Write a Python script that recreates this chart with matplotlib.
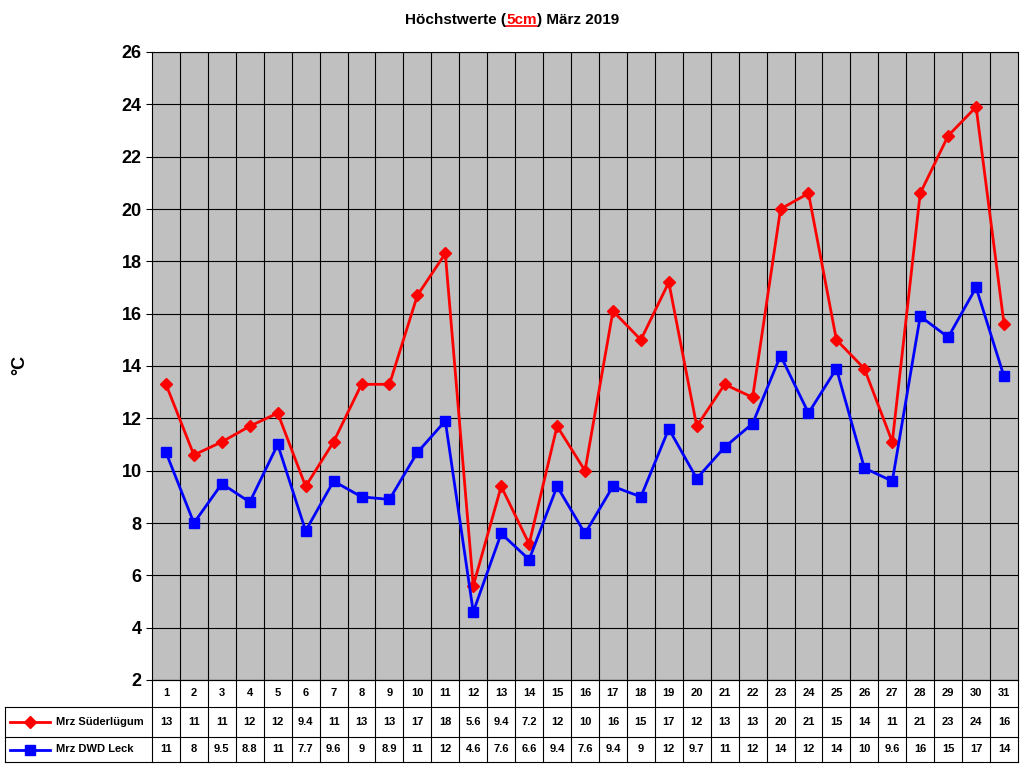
import matplotlib
matplotlib.use("Agg")
import matplotlib.pyplot as plt
from matplotlib.transforms import blended_transform_factory
from matplotlib.lines import Line2D

plt.rcParams['font.family'] = ['Liberation Sans', 'DejaVu Sans']

days = list(range(1, 32))
sued = [13.3, 10.6, 11.1, 11.7, 12.2, 9.4, 11.1, 13.3, 13.3, 16.7, 18.3, 5.6, 9.4, 7.2, 11.7, 10.0,
        16.1, 15.0, 17.2, 11.7, 13.3, 12.8, 20.0, 20.6, 15.0, 13.9, 11.1, 20.6, 22.8, 23.9, 15.6]
leck = [10.7, 8.0, 9.5, 8.8, 11.0, 7.7, 9.6, 9.0, 8.9, 10.7, 11.9, 4.6, 7.6, 6.6, 9.4, 7.6,
        9.4, 9.0, 11.6, 9.7, 10.9, 11.8, 14.4, 12.2, 13.9, 10.1, 9.6, 15.9, 15.1, 17.0, 13.6]
series_names = ["Mrz Süderlügum", "Mrz DWD Leck"]
colors = ["#FF0000", "#0000FF"]
markers = ["D", "s"]

def fmt(v):
    s = f"{v:.0f}" if v >= 10 else f"{v:.1f}"
    return s[:-2] if s.endswith(".0") else s

fig = plt.figure(figsize=(10.24, 7.68), dpi=100)
L, R, T, B = 152, 1018, 52, 680
ax = fig.add_axes([L/1024, 1-B/768, (R-L)/1024, (B-T)/768])
ax.set_facecolor("#C0C0C0")
ax.set_xlim(0.5, 31.5)
ax.set_ylim(2, 26)
ax.set_yticks(range(2, 27, 2))
ax.set_xticks([d + 0.5 for d in days[:-1]])
ax.set_xticklabels([])
ax.tick_params(axis="x", length=0)
ax.tick_params(axis="y", labelsize=13, length=4)
for lbl in ax.get_yticklabels():
    lbl.set_fontweight("bold")
ax.grid(True, color="black", linewidth=0.8)
ax.set_axisbelow(True)
for sp in ax.spines.values():
    sp.set_color("black")

ms = [6, 7]
for vals, c, m, s in zip([sued, leck], colors, markers, ms):
    ax.plot(days, vals, color=c, marker=m, markersize=s, linewidth=2)

fig.text(20/1024, 1-365/768, "°C", fontsize=13, fontweight="bold", rotation=90, va="center", ha="center")

# Title
ty = 1-20/768
t1 = fig.text(0, ty, "Höchstwerte (", fontsize=11, fontweight="bold", va="center")
t2 = fig.text(0, ty, "5cm", fontsize=11, fontweight="bold", va="center", color="red")
t3 = fig.text(0, ty, ") März 2019", fontsize=11, fontweight="bold", va="center")
fig.canvas.draw()
r = fig.canvas.get_renderer()
ws = [t.get_window_extent(r).width for t in (t1, t2, t3)]
x0 = 512 - sum(ws)/2
for t, w in zip((t1, t2, t3), ws):
    t.set_x(x0/1024); x0 += w
bb = t2.get_window_extent(r)
fig.add_artist(Line2D([bb.x0/1024, bb.x1/1024], [(bb.y0+1)/768]*2, color="red", lw=1.2))

# Data table
trans = blended_transform_factory(ax.transData, fig.transFigure)
rows_y = [680, 707, 737, 762]
fy = lambda p: 1 - p/768
for d in days:
    ax.text(d, fy((rows_y[0]+rows_y[1])/2), str(d), transform=trans, ha="center", va="center",
            fontsize=8, fontweight="bold")
    for k, vals in enumerate([sued, leck]):
        ax.text(d, fy((rows_y[k+1]+rows_y[k+2])/2), fmt(vals[d-1]),
                transform=trans, ha="center", va="center", fontsize=8, fontweight="bold")
for xb in [x + 0.5 for x in range(0, 32)]:
    ax.add_line(Line2D([xb, xb], [fy(rows_y[0]), fy(rows_y[-1])], transform=trans, color="black",
                       lw=0.8, clip_on=False))
for yy in rows_y:
    x_start = 152 if yy == rows_y[0] else 5
    fig.add_artist(Line2D([x_start/1024, R/1024], [fy(yy)]*2, color="black", lw=0.8))
fig.add_artist(Line2D([5/1024]*2, [fy(rows_y[1]), fy(rows_y[-1])], color="black", lw=0.8))
for k in range(2):
    yc = fy((rows_y[k+1]+rows_y[k+2])/2)
    fig.add_artist(Line2D([10/1024, 50/1024], [yc, yc], color=colors[k], lw=2))
    fig.add_artist(Line2D([30/1024], [yc], color=colors[k], marker=markers[k], markersize=ms[k]))
    fig.text(56/1024, yc, series_names[k], fontsize=8, fontweight="bold", va="center")

fig.savefig("out.png", dpi=100)
